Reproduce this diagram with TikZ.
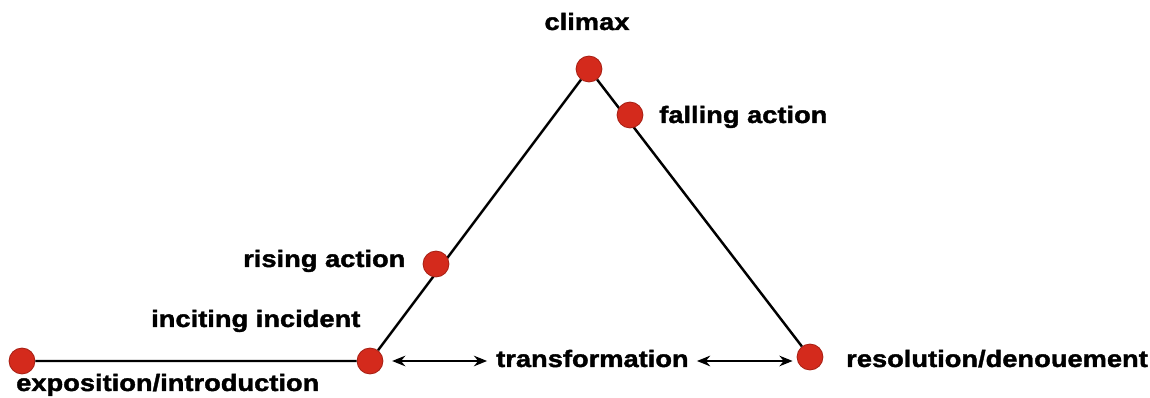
\documentclass[tikz,border=0pt]{standalone}
\usepackage{fontspec}
\setmainfont{Liberation Sans}[FakeStretch=1.15,FakeBold=1.6]
\usetikzlibrary{arrows.meta}
\definecolor{dotred}{RGB}{212,42,28}

\begin{document}
\begin{tikzpicture}[x=0.02cm,y=-0.02cm,line width=1.4pt]
\useasboundingbox (0,0) rectangle (1150,398);
\tikzstyle{point}=[circle,draw=dotred!80!black,line width=0.5pt,fill=dotred,inner sep=0pt,minimum size=14.7pt]
\tikzstyle{tag}=[anchor=base west,inner sep=0pt,font=\bfseries\fontsize{13.5}{15}\selectfont]
\tikzstyle{span}=[{Stealth[length=7.5pt,width=6pt]}-{Stealth[length=7.5pt,width=6pt]},line width=1.2pt]
% plot points
\node (expo)[point] at (22,361) {};
\node (inc)[point] at (370,361) {};
\node (top)[point] at (589,69) {};
\node (res)[point] at (810,357) {};
\draw (expo) -- (inc) -- (top) -- (res);
\node (rise)[point] at (436,264) {};
\node (fall)[point] at (630,115) {};
% labels
\node (climax)[tag,anchor=base] at (587,30) {climax};
\node (falltxt)[tag] at (658,123) {falling action};
\node (risetxt)[tag] at (242,267) {rising action};
\node (inctxt)[tag] at (150,327) {inciting incident};
\node (expotxt)[tag] at (15,391) {exposition/introduction};
\node (restxt)[tag] at (845,367) {resolution/denouement};
\node (trans)[tag] at (495,367) {transformation};
\draw[span,shorten <=5pt,shorten >=4.5pt] (inc) -- (inc -| trans.west);
\draw[span,shorten <=4pt,shorten >=2.3pt] (trans.east |- inc) -- (res.west |- inc);
\end{tikzpicture}
\end{document}
